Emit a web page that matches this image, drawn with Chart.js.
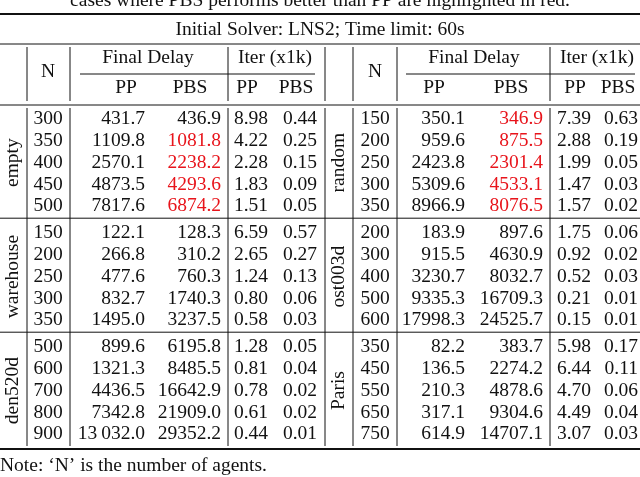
<!DOCTYPE html>
<html><head><meta charset="utf-8">
<script src="https://cdn.jsdelivr.net/npm/chart.js@4"></script>
<style>body{margin:0;background:#fff}canvas{display:block}</style>
</head><body>
<canvas id="tbl" width="640" height="477"></canvas>
<script>
// ===== data =====
const title = 'Initial Solver: LNS2; Time limit: 60s';
const note = 'Note: \u2018N\u2019 is the number of agents.';
const leftMaps = ['empty', 'warehouse', 'den520d'];
const rightMaps = ['random', 'ost003d', 'Paris'];

const leftN = [[300,350,400,450,500],[150,200,250,300,350],[500,600,700,800,900]];
const leftDelayPP = [['431.7','1109.8','2570.1','4873.5','7817.6'],['122.1','266.8','477.6','832.7','1495.0'],['899.6','1321.3','4436.5','7342.8','13\u2009032.0']];
const leftDelayPBS = [['436.9','1081.8','2238.2','4293.6','6874.2'],['128.3','310.2','760.3','1740.3','3237.5'],['6195.8','8485.5','16642.9','21909.0','29352.2']];
const leftIterPP = [['8.98','4.22','2.28','1.83','1.51'],['6.59','2.65','1.24','0.80','0.58'],['1.28','0.81','0.78','0.61','0.44']];
const leftIterPBS = [['0.44','0.25','0.15','0.09','0.05'],['0.57','0.27','0.13','0.06','0.03'],['0.05','0.04','0.02','0.02','0.01']];
const leftRed = [[0,1,1,1,1],[0,0,0,0,0],[0,0,0,0,0]];

const rightN = [[150,200,250,300,350],[200,300,400,500,600],[350,450,550,650,750]];
const rightDelayPP = [['350.1','959.6','2423.8','5309.6','8966.9'],['183.9','915.5','3230.7','9335.3','17998.3'],['82.2','136.5','210.3','317.1','614.9']];
const rightDelayPBS = [['346.9','875.5','2301.4','4533.1','8076.5'],['897.6','4630.9','8032.7','16709.3','24525.7'],['383.7','2274.2','4878.6','9304.6','14707.1']];
const rightIterPP = [['7.39','2.88','1.99','1.47','1.57'],['1.75','0.92','0.52','0.21','0.15'],['5.98','6.44','4.70','4.49','3.07']];
const rightIterPBS = [['0.63','0.19','0.05','0.03','0.02'],['0.06','0.02','0.03','0.01','0.01'],['0.17','0.11','0.06','0.04','0.03']];
const rightRed = [[1,1,1,1,1],[0,0,0,0,0],[0,0,0,0,0]];

// ===== table drawing through chart scales =====
const tablePlugin = {
  id: 'table',
  afterDraw(chart) {
    const c = chart.ctx, sx = chart.scales.x, sy = chart.scales.y;
    const X = v => sx.getPixelForValue(v), Y = v => sy.getPixelForValue(v);
    c.save();
    c.font = '19.5px "Liberation Serif", "DejaVu Serif", serif';
    c.textBaseline = 'middle'; c.strokeStyle = '#111';
    function text(s, x, y, align, color) { c.textAlign = align || 'center'; c.fillStyle = color || '#111'; c.fillText(s, X(x), Y(y)); }
    function hline(y, x0, x1, w) { c.lineWidth = w; c.beginPath(); c.moveTo(X(x0), Y(y)); c.lineTo(X(x1), Y(y)); c.stroke(); }
    function vline(x, y0, y1) { c.lineWidth = 1; c.beginPath(); c.moveTo(X(x), Y(y0)); c.lineTo(X(x), Y(y1)); c.stroke(); }

    text('cases where PBS performs better than PP are highlighted in red.', 320, 1);
    hline(14, 0, 640, 2);
    text(title, 320, 30);
    hline(44, 0, 640, 1);
    [27, 70, 228, 325, 353, 397, 550].forEach(x => { vline(x, 47, 101); vline(x, 108, 446); });
    // headers
    text('N', 48, 72); text('N', 375, 72);
    text('Final Delay', 148, 58); text('Iter (x1k)', 275, 58);
    text('Final Delay', 474, 58); text('Iter (x1k)', 597, 58);
    hline(74, 80, 315, 1); hline(74, 406, 635, 1);
    text('PP', 126, 88); text('PBS', 190, 88); text('PP', 247, 88); text('PBS', 296, 88);
    text('PP', 434, 88); text('PBS', 511, 88); text('PP', 575, 88); text('PBS', 618, 88);
    hline(105, 0, 640, 1);

    const starts = [119, 233, 347];
    for (let g = 0; g < 3; g++) {
      for (let i = 0; i < 5; i++) {
        const y = starts[g] + i * 21.8;
        text(String(leftN[g][i]), 48, y);
        text(leftDelayPP[g][i], 145, y, 'right');
        text(leftDelayPBS[g][i], 221, y, 'right', leftRed[g][i] ? '#e8141b' : '#111');
        text(leftIterPP[g][i], 268, y, 'right');
        text(leftIterPBS[g][i], 317, y, 'right');
        text(String(rightN[g][i]), 375, y);
        text(rightDelayPP[g][i], 465, y, 'right');
        text(rightDelayPBS[g][i], 543, y, 'right', rightRed[g][i] ? '#e8141b' : '#111');
        text(rightIterPP[g][i], 591, y, 'right');
        text(rightIterPBS[g][i], 638, y, 'right');
      }
      const mid = starts[g] + 2 * 21.8;
      [[leftMaps[g], 13], [rightMaps[g], 339]].forEach(([s, x]) => {
        c.save(); c.translate(X(x), Y(mid)); c.rotate(-Math.PI / 2);
        c.textAlign = 'center'; c.fillStyle = '#111'; c.fillText(s, 0, 0); c.restore();
      });
      if (g < 2) hline(starts[g] + 4 * 21.8 + 12, 0, 640, 1);
    }
    hline(449, 0, 640, 2);
    text(note, 0, 466, 'left');
    c.restore();
  }
};

new Chart(document.getElementById('tbl'), {
  type: 'scatter',
  data: { datasets: [{ data: [] }] },
  options: {
    responsive: false, animation: false,
    layout: { padding: 0 },
    plugins: { legend: { display: false }, tooltip: { enabled: false } },
    scales: {
      x: { type: 'linear', min: 0, max: 640, display: false },
      y: { type: 'linear', min: 0, max: 477, reverse: true, display: false }
    }
  },
  plugins: [tablePlugin]
});
</script>
</body></html>
